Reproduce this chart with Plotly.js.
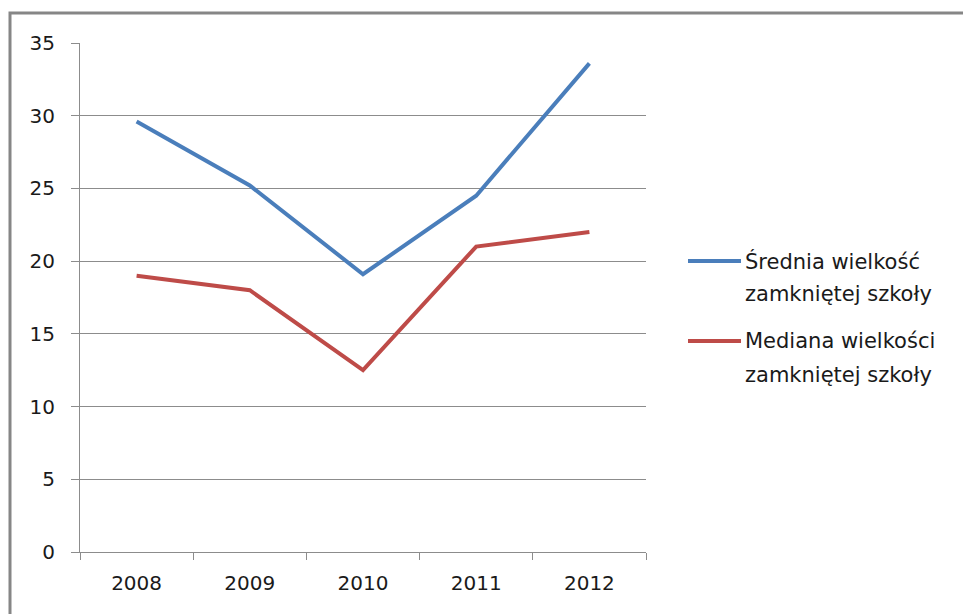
<!DOCTYPE html>
<html>
<head>
<meta charset="utf-8">
<script src="https://cdn.plot.ly/plotly-3.0.1.min.js"></script>
<style>
  html, body { margin: 0; padding: 0; background: #fff; }
  #chart { width: 963px; height: 614px; }
</style>
</head>
<body>
<div id="chart"></div>
<script>
// ---- data ----
const years = ['2008', '2009', '2010', '2011', '2012'];
const sredniaValues = [29.6, 25.2, 19.1, 24.5, 33.6];
const medianaValues = [19.0, 18.0, 12.5, 21.0, 22.0];
const seriesNames = ['Średnia wielkość<br>zamkniętej szkoły', 'Mediana wielkości<br>zamkniętej szkoły'];
const yTicks = [0, 5, 10, 15, 20, 25, 30, 35];

const colors = ['#4a7ebb', '#be4b48'];
const FONT = 'DejaVu Sans, Verdana, sans-serif';
const TEXT = '#1a1a1a';

const traces = [sredniaValues, medianaValues].map((vals, i) => ({
  type: 'scatter',
  mode: 'lines',
  x: years,
  y: vals,
  name: seriesNames[i],
  line: { color: colors[i], width: 4, shape: 'linear' },
  showlegend: false,
  hoverinfo: 'x+y'
}));

// plot-area geometry (px) used only for placing the manual legend & frame
const L = 80, R = 646, T = 43, B = 552, W = 963, H = 614;
const px = x => (x - L) / (R - L);
const py = y => (B - y) / (B - T);

const shapes = [
  // outer chart frame (partially visible)
  { type: 'rect', xref: 'paper', yref: 'paper',
    x0: px(10), x1: px(1010), y0: py(13), y1: py(680),
    line: { color: '#868686', width: 3 }, fillcolor: 'rgba(0,0,0,0)', layer: 'below' }
];
const annotations = [];
const legendY = [[261, 294], [341, 375]];
seriesNames.forEach((nm, i) => {
  shapes.push({ type: 'line', xref: 'paper', yref: 'paper',
    x0: px(688), x1: px(741), y0: py(legendY[i][0]), y1: py(legendY[i][0]),
    line: { color: colors[i], width: 4 } });
  nm.split('<br>').forEach((ln, j) => {
    annotations.push({ xref: 'paper', yref: 'paper', x: px(743), y: py(legendY[i][j]),
      xanchor: 'left', yanchor: 'middle', showarrow: false, text: ln,
      font: { family: FONT, size: 21, color: TEXT } });
  });
});

const layout = {
  width: W, height: H,
  margin: { l: L, r: W - R, t: T, b: H - B, pad: 0 },
  paper_bgcolor: '#ffffff',
  plot_bgcolor: '#ffffff',
  font: { family: FONT, size: 20, color: TEXT },
  xaxis: {
    type: 'category',
    categoryarray: years,
    range: [-0.5, 4.5],
    tickson: 'boundaries',
    ticks: 'outside', ticklen: 7, tickcolor: '#8c8c8c', tickwidth: 1,
    showline: true, linecolor: '#8c8c8c', linewidth: 1,
    showgrid: false, zeroline: false,
    ticklabelstandoff: 13,
    tickfont: { family: FONT, size: 20, color: TEXT },
    fixedrange: true
  },
  yaxis: {
    range: [0, 35],
    tickvals: yTicks,
    ticktext: yTicks.map(String),
    ticks: 'outside', ticklen: 8, tickcolor: '#8c8c8c', tickwidth: 1,
    showline: true, linecolor: '#8c8c8c', linewidth: 1,
    showgrid: true, gridcolor: '#8c8c8c', gridwidth: 1,
    zeroline: false,
    ticklabelstandoff: 12,
    tickfont: { family: FONT, size: 20, color: TEXT },
    fixedrange: true
  },
  shapes: shapes,
  annotations: annotations,
  showlegend: false
};

Plotly.newPlot('chart', traces, layout, { displayModeBar: false, staticPlot: true });
</script>
</body>
</html>
